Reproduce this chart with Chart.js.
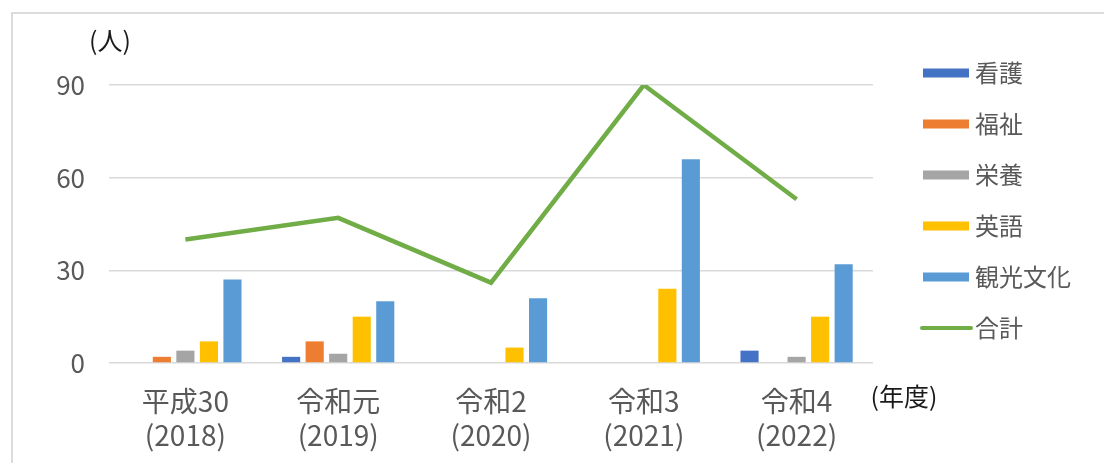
<!DOCTYPE html>
<html lang="ja">
<head>
<meta charset="utf-8">
<title>学科別人数の推移</title>
<script src="https://cdn.jsdelivr.net/npm/chart.js@4/dist/chart.umd.min.js"></script>
<style>
  body { margin: 0; background: #fff; }
  #wrap { position: relative; width: 1104px; height: 463px; }
  #frame {
    position: absolute; left: 11px; top: 12px; right: 0; bottom: 0;
    border-top: 2px solid #dcdcdc; border-left: 2px solid #dcdcdc;
    pointer-events: none;
  }
</style>
</head>
<body>
<div id="wrap">
  <canvas id="chart" width="1104" height="463"></canvas>
  <div id="frame"></div>
</div>
<script>
// data
const years = [['平成30', '(2018)'], ['令和元', '(2019)'], ['令和2', '(2020)'], ['令和3', '(2021)'], ['令和4', '(2022)']];
const nursing = [0, 2, 0, 0, 4];       // 看護
const welfare = [2, 7, 0, 0, 0];       // 福祉
const nutrition = [4, 3, 0, 0, 2];     // 栄養
const english = [7, 15, 5, 24, 15];    // 英語
const tourism = [27, 20, 21, 66, 32];  // 観光文化
const total = [40, 47, 26, 90, 53];    // 合計
const yTicks = [0, 30, 60, 90];

const barColors = ['#4472C4', '#ED7D31', '#A5A5A5', '#FFC000', '#5B9BD5'];
const lineColor = '#70AD47';
const textColor = '#595959';
const fontFam = "'Noto Sans CJK JP', 'Noto Sans', sans-serif";

Chart.defaults.font.family = fontFam;
Chart.defaults.color = textColor;

function barSet(label, data, color) {
  return {
    type: 'bar',
    label: label,
    data: data,
    backgroundColor: color,
    categoryPercentage: 0.77,
    barPercentage: 0.77,
    order: 1
  };
}

// legend + unit labels drawn by hand so they sit where the original has them
const extras = {
  id: 'extras',
  afterDraw(chart) {
    const ctx = chart.ctx;
    ctx.save();
    ctx.font = '24px ' + fontFam;
    ctx.textBaseline = 'middle';
    chart.data.datasets.forEach(function(ds, i) {
      const y = 73 + i * 51;
      if (ds.type === 'line') {
        ctx.strokeStyle = ds.borderColor;
        ctx.lineWidth = 4;
        ctx.lineCap = 'round';
        ctx.beginPath();
        ctx.moveTo(922, y);
        ctx.lineTo(971, y);
        ctx.stroke();
      } else {
        ctx.fillStyle = ds.backgroundColor;
        ctx.fillRect(923, y - 4.5, 46, 9);
      }
      ctx.fillStyle = textColor;
      ctx.textAlign = 'left';
      ctx.fillText(ds.label, 975, y);
    });
    ctx.fillStyle = '#1a1a1a';
    ctx.font = '25px ' + fontFam;
    ctx.textAlign = 'center';
    ctx.fillText('(人)', 110, 40);
    ctx.fillText('(年度)', 904, 396);
    ctx.restore();
  }
};

var ctx = document.getElementById('chart').getContext('2d');
const myChart = new Chart(ctx, {
  data: {
    labels: years,
    datasets: [
      barSet('看護', nursing, barColors[0]),
      barSet('福祉', welfare, barColors[1]),
      barSet('栄養', nutrition, barColors[2]),
      barSet('英語', english, barColors[3]),
      barSet('観光文化', tourism, barColors[4]),
      {
        type: 'line',
        label: '合計',
        data: total,
        borderColor: lineColor,
        backgroundColor: lineColor,
        borderWidth: 4.5,
        pointRadius: 0,
        tension: 0,
        order: 0
      }
    ]
  },
  options: {
    responsive: false,
    animation: false,
    layout: { padding: { left: 0, right: 231, top: 85, bottom: 0 } },
    plugins: {
      legend: { display: false },
      tooltip: { enabled: false }
    },
    scales: {
      x: {
        grid: { display: false },
        border: { display: false },
        ticks: {
          font: { size: 28 },
          color: textColor,
          padding: 14,
          maxRotation: 0
        },
        afterFit(scale) { scale.height = 100; }
      },
      y: {
        min: 0,
        max: 90,
        afterBuildTicks(scale) { scale.ticks = yTicks.map(v => ({ value: v })); },
        grid: { color: '#d9d9d9', lineWidth: 1.5, drawTicks: false },
        border: { display: false },
        ticks: {
          font: { size: 26 },
          color: textColor,
          padding: 24
        },
        afterFit(scale) { scale.width = 109; }
      }
    }
  },
  plugins: [extras]
});
</script>
</body>
</html>
